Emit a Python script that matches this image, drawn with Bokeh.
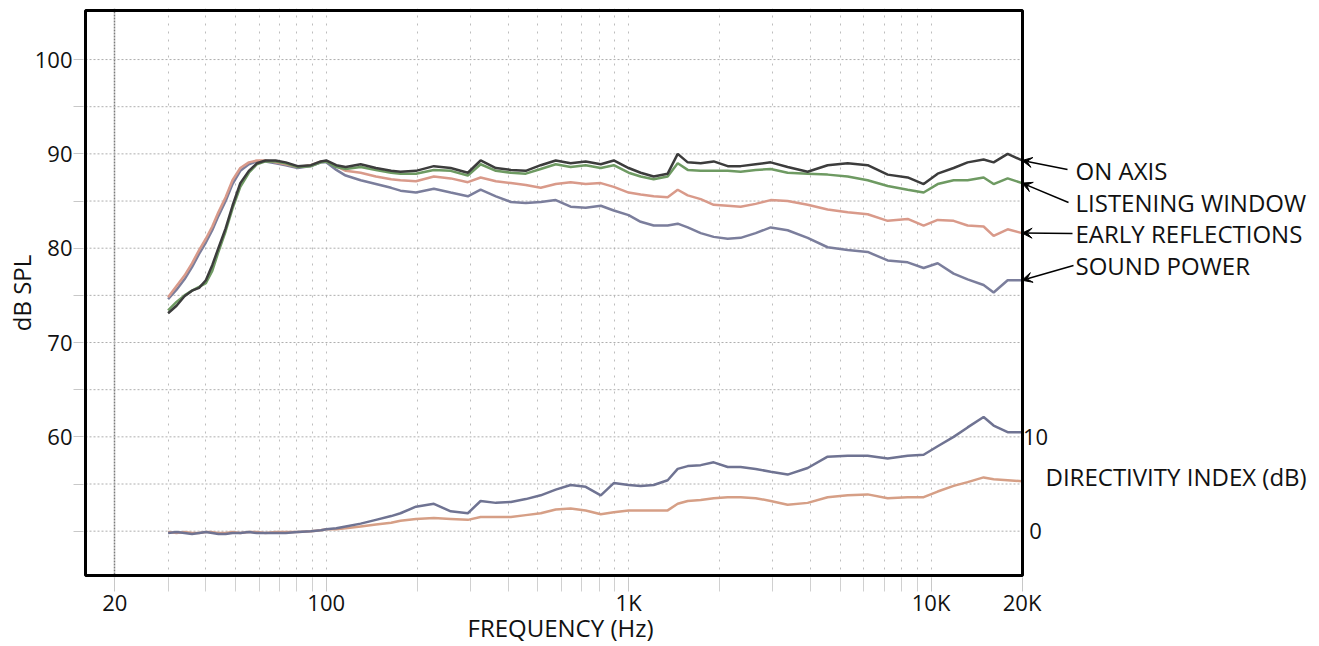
import math
from bokeh.plotting import figure
from bokeh.models import Range1d, FixedTicker, Label, Arrow, VeeHead, Title
from bokeh.core.properties import value
from bokeh.embed import file_html
from bokeh.resources import INLINE

# ---------------- data ----------------
freq_hz = [30, 32, 34, 36, 38, 40, 42, 44, 46.5, 49, 52, 55.5, 59, 63, 68, 73.5,
           80.5, 89, 96, 100, 108, 116, 130, 146, 164, 176, 198, 227, 258, 294,
           324, 364, 408, 457, 512, 574, 643, 721, 809, 893, 1000, 1096, 1210,
           1346, 1453, 1568, 1731, 1911, 2126, 2346, 2630, 2949, 3355, 3908,
           4550, 5300, 6172, 7188, 8368, 9450, 10516, 11874, 13208, 14918,
           16100, 17916, 20000]

on_axis = [73.1, 73.9, 74.9, 75.5, 75.8, 76.6, 78.2, 80.0, 82.1, 84.5, 86.9, 88.2,
           89.0, 89.3, 89.3, 89.1, 88.7, 88.8, 89.2, 89.3, 88.8, 88.6, 88.9, 88.5,
           88.2, 88.1, 88.2, 88.7, 88.5, 88.0, 89.3, 88.5, 88.3, 88.2, 88.8, 89.3,
           89.0, 89.2, 88.9, 89.3, 88.5, 88.0, 87.6, 87.9, 90.0, 89.1, 89.0, 89.2,
           88.7, 88.7, 88.9, 89.1, 88.6, 88.1, 88.8, 89.0, 88.8, 87.8, 87.5, 86.8,
           87.9, 88.5, 89.1, 89.4, 89.1, 90.0, 89.3]

listening_window = [73.4, 74.3, 75.0, 75.5, 75.9, 76.3, 77.6, 79.6, 81.8, 84.2, 86.5,
                    88.0, 88.9, 89.2, 89.2, 89.0, 88.6, 88.7, 89.1, 89.2, 88.6, 88.4,
                    88.6, 88.3, 88.0, 87.9, 87.9, 88.3, 88.2, 87.7, 88.9, 88.2, 88.0,
                    87.9, 88.4, 88.9, 88.6, 88.8, 88.5, 88.8, 88.0, 87.6, 87.3, 87.6,
                    89.0, 88.3, 88.2, 88.2, 88.2, 88.1, 88.3, 88.4, 88.0, 87.9, 87.8,
                    87.6, 87.2, 86.6, 86.2, 85.9, 86.8, 87.2, 87.2, 87.5, 86.8, 87.4,
                    86.9]

early_reflections = [74.8, 76.0, 77.1, 78.4, 79.8, 81.0, 82.3, 83.8, 85.4, 87.2, 88.5,
                     89.1, 89.3, 89.3, 89.1, 88.9, 88.6, 88.8, 89.2, 89.2, 88.7, 88.2,
                     88.0, 87.6, 87.3, 87.2, 87.1, 87.6, 87.4, 87.0, 87.5, 87.1, 86.9,
                     86.7, 86.4, 86.8, 87.0, 86.8, 86.9, 86.5, 85.9, 85.7, 85.5, 85.4,
                     86.2, 85.6, 85.2, 84.6, 84.5, 84.4, 84.7, 85.1, 85.0, 84.6, 84.1,
                     83.8, 83.6, 82.9, 83.1, 82.4, 83.0, 82.9, 82.4, 82.3, 81.3, 82.0,
                     81.6]

sound_power = [74.6, 75.6, 76.7, 78.0, 79.4, 80.6, 81.9, 83.4, 85.0, 86.8, 88.2, 88.9,
               89.2, 89.2, 89.0, 88.8, 88.5, 88.7, 89.1, 89.1, 88.3, 87.7, 87.2, 86.8,
               86.4, 86.1, 85.9, 86.3, 85.9, 85.5, 86.2, 85.5, 84.9, 84.8, 84.9, 85.1,
               84.4, 84.3, 84.5, 84.0, 83.5, 82.8, 82.4, 82.4, 82.6, 82.2, 81.6, 81.2,
               81.0, 81.1, 81.6, 82.2, 81.9, 81.1, 80.1, 79.8, 79.6, 78.7, 78.5, 77.9,
               78.4, 77.3, 76.7, 76.1, 75.3, 76.6, 76.6]

di_sound_power = [-0.2, -0.1, -0.2, -0.3, -0.2, -0.1, -0.2, -0.3, -0.3, -0.2, -0.2,
                  -0.1, -0.2, -0.2, -0.2, -0.2, -0.1, 0.0, 0.1, 0.2, 0.3, 0.5, 0.8,
                  1.2, 1.6, 1.9, 2.6, 2.9, 2.1, 1.9, 3.2, 3.0, 3.1, 3.4, 3.8, 4.4, 4.9,
                  4.7, 3.8, 5.1, 4.9, 4.8, 4.9, 5.4, 6.6, 6.9, 7.0, 7.3, 6.8, 6.8, 6.6,
                  6.3, 6.0, 6.7, 7.9, 8.0, 8.0, 7.7, 8.0, 8.1, 9.0, 10.0, 11.0, 12.1,
                  11.2, 10.5, 10.5]

di_early_reflections = [-0.1, -0.2, -0.1, -0.2, -0.2, -0.1, -0.1, -0.2, -0.2, -0.1,
                        -0.2, -0.1, -0.1, -0.2, -0.1, -0.1, -0.1, 0.0, 0.1, 0.2, 0.2,
                        0.3, 0.5, 0.7, 0.9, 1.1, 1.3, 1.4, 1.3, 1.2, 1.5, 1.5, 1.5, 1.7,
                        1.9, 2.3, 2.4, 2.2, 1.8, 2.0, 2.2, 2.2, 2.2, 2.2, 2.9, 3.2, 3.3,
                        3.5, 3.6, 3.6, 3.5, 3.2, 2.8, 3.0, 3.6, 3.8, 3.9, 3.5, 3.6, 3.6,
                        4.2, 4.8, 5.2, 5.7, 5.5, 5.4, 5.3]

x_tick_values = [20, 100, 1000, 10000, 20000]
x_tick_labels = ["20", "100", "1K", "10K", "20K"]
x_minor_values = [30, 40, 50, 60, 70, 80, 90, 200, 300, 400, 500, 600, 700, 800, 900,
                  2000, 3000, 4000, 5000, 6000, 7000, 8000, 9000]
y_tick_values = [60, 70, 80, 90, 100]
y_tick_labels = ["60", "70", "80", "90", "100"]
y_minor_values = [50, 55, 65, 75, 85, 95]
y_grid_values = [50, 55, 60, 65, 70, 75, 80, 85, 90, 95, 100]
di_tick_values = [0, 10]
di_tick_labels = ["0", "10"]
series_names = ["ON AXIS", "LISTENING WINDOW", "EARLY REFLECTIONS", "SOUND POWER"]

# ---------------- layout / style ----------------
FONT = "Open Sans"
NSIZE = "22px"      # numbers
TSIZE = "24px"      # words
TXT = "#111111"
W, H = 1319, 646
# chart box (page pixels) and its data extent
BOX_L, BOX_R, BOX_T, BOX_B = 85, 1022, 10, 575
BX0, BX1 = 16.0, 20060.0
BY0, BY1 = 45.3, 105.2
DI_OFFSET = 50.0
# plotting frame: 2px larger than the box on left/top/bottom, open to the right
FL, FT, FB = BOX_L - 2, BOX_T - 2, BOX_B + 2
DEC = (BOX_R - BOX_L) / math.log10(BX1 / BX0)          # px per decade
DBPX = (BY1 - BY0) / (BOX_B - BOX_T)                    # dB per px
X_START = 10 ** (math.log10(BX0) - (BOX_L - FL) / DEC)
X_END = 10 ** (math.log10(BX1) + (W - BOX_R) / DEC)
Y_START = BY0 - (FB - BOX_B) * DBPX
Y_END = BY1 + (BOX_T - FT) * DBPX


def hz_px(px):
    return 10 ** (math.log10(X_START) + (px - FL) / DEC)


def db_px(py):
    return Y_END - (py - FT) * DBPX


p = figure(width=W, height=H, x_axis_type="log",
           x_range=Range1d(X_START, X_END), y_range=Range1d(Y_START, Y_END),
           output_backend="svg", toolbar_location=None,
           min_border_left=FL, min_border_right=0,
           min_border_top=FT, min_border_bottom=H - FB)
p.extra_y_ranges = {"di": Range1d(Y_START - DI_OFFSET, Y_END - DI_OFFSET)}

p.background_fill_color = "white"
p.border_fill_color = "white"
p.outline_line_color = None

# vertical grid (frame spans the box vertically)
p.xgrid.ticker = FixedTicker(ticks=[20], minor_ticks=x_minor_values + [100, 1000, 10000])
p.xgrid.grid_line_color = "#7c7c7c"
p.xgrid.grid_line_dash = "2 1"
p.xgrid.grid_line_width = 1.5
p.xgrid.minor_grid_line_color = "#bdbdbd"
p.xgrid.minor_grid_line_dash = "2 6"
p.xgrid.minor_grid_line_width = 1
p.ygrid.visible = False

# horizontal grid limited to the box
p.segment(x0=[BX0] * len(y_grid_values), x1=[BX1] * len(y_grid_values),
          y0=y_grid_values, y1=y_grid_values,
          line_color="#aeaeae", line_dash="2 2", line_width=1)

# axes
xa = p.xaxis[0]
xa.ticker = FixedTicker(ticks=x_tick_values, minor_ticks=x_minor_values)
xa.major_label_overrides = dict(zip(x_tick_values, x_tick_labels))
xa.axis_line_color = None
xa.major_tick_out = 14
xa.major_tick_in = 0
xa.minor_tick_out = 14
xa.minor_tick_in = 0
xa.major_tick_line_color = "#c8c8c8"
xa.minor_tick_line_color = "#d0d0d0"
xa.major_label_standoff = -5
xa.major_label_text_font = FONT
xa.major_label_text_font_size = NSIZE
xa.major_label_text_color = TXT

ya = p.yaxis[0]
ya.ticker = FixedTicker(ticks=y_tick_values, minor_ticks=y_minor_values)
ya.major_label_overrides = dict(zip(y_tick_values, y_tick_labels))
ya.axis_line_color = None
ya.major_tick_out = 10
ya.major_tick_in = 0
ya.minor_tick_out = 10
ya.minor_tick_in = 0
ya.major_tick_line_color = "#c8c8c8"
ya.minor_tick_line_color = "#c8c8c8"
ya.major_label_standoff = 1
ya.major_label_text_font = FONT
ya.major_label_text_font_size = NSIZE
ya.major_label_text_color = TXT
ya.axis_label = "dB SPL"
ya.axis_label_standoff = -6
ya.axis_label_text_font = FONT
ya.axis_label_text_font_size = TSIZE
ya.axis_label_text_font_style = "normal"
ya.axis_label_text_color = TXT

p.add_layout(Title(text="FREQUENCY (Hz)", align="left", offset=384, standoff=-21,
                   text_font=FONT, text_font_size=TSIZE, text_font_style="normal",
                   text_color=TXT), "below")

# curves
LW_ = 2.5
p.line(freq_hz, di_early_reflections, y_range_name="di", line_color="#d69f86", line_width=LW_)
p.line(freq_hz, di_sound_power, y_range_name="di", line_color="#6f7392", line_width=LW_)
p.line(freq_hz, sound_power, line_color="#7b7e9c", line_width=LW_)
p.line(freq_hz, early_reflections, line_color="#d99a8a", line_width=LW_)
p.line(freq_hz, listening_window, line_color="#6e9a62", line_width=LW_)
p.line(freq_hz, on_axis, line_color="#3c3c3c", line_width=LW_)

# chart box
p.quad(left=[BX0], right=[BX1], bottom=[BY0], top=[BY1],
       fill_color=None, line_color="black", line_width=3)

# directivity index scale (right of the box)
p.text(x=[BX1] * len(di_tick_values), y=di_tick_values, text=di_tick_labels,
       y_range_name="di", x_offset=13, text_align="center", text_baseline="middle",
       text_font=value(FONT), text_font_size=value(NSIZE), text_color=TXT)
p.add_layout(Label(x=hz_px(1045), y=db_px(476), text="DIRECTIVITY INDEX (dB)",
                   text_align="left", text_baseline="middle",
                   text_font=FONT, text_font_size=TSIZE, text_color=TXT))

# series labels + arrows
label_py = [170, 202, 233, 265]
tail_px = [1067, 1068, 1072, 1073]
tail_py = [169, 202, 233, 265]
series_ends = [on_axis[-1], listening_window[-1], early_reflections[-1], sound_power[-1]]
for name, ly, tx, ty, yend in zip(series_names, label_py, tail_px, tail_py, series_ends):
    p.add_layout(Label(x=hz_px(1075), y=db_px(ly), text=name,
                       text_align="left", text_baseline="middle",
                       text_font=FONT, text_font_size=TSIZE, text_color=TXT))
    p.add_layout(Arrow(end=VeeHead(size=10, line_color="black", fill_color="black"),
                       x_start=hz_px(tx), y_start=db_px(ty),
                       x_end=freq_hz[-1], y_end=yend,
                       line_color="black", line_width=1.5))

open("out.html", "w").write(file_html(p, INLINE))
